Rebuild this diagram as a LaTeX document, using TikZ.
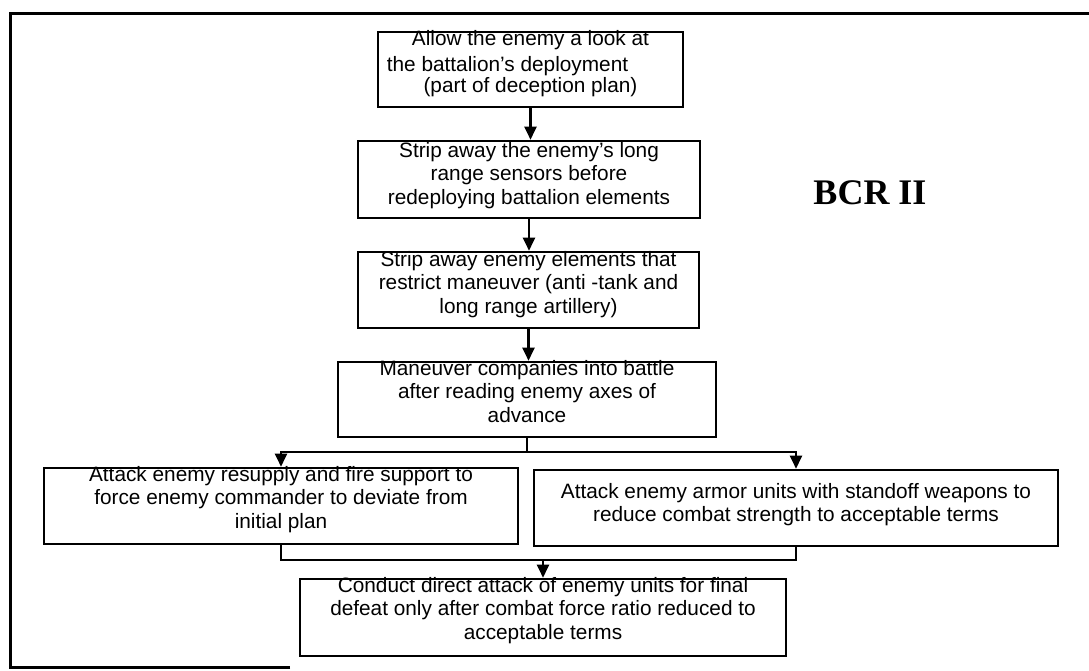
\documentclass[tikz,border=0pt]{standalone}
\usepackage{fontspec}
\setmainfont{Liberation Sans}
\newfontfamily\titlefont{Liberation Serif}
\usetikzlibrary{arrows.meta}
\begin{document}
\begin{tikzpicture}[x=1pt,y=-1pt,
  box/.style={draw, line width=2.6pt, rectangle, inner sep=0pt},
  txt/.style={align=center, inner sep=0pt, font=\fontsize{20.8}{23.5}\selectfont},
  conn/.style={line width=2.2pt},
  arr/.style={conn, -{Triangle[width=12pt,length=13pt]}},
  frameline/.style={line width=3pt}]
\useasboundingbox (0,0) rectangle (1089,670);
% frame
\draw[frameline] (290,667) -- (10,667) -- (10,13) -- (1095,13);
% boxes
\node[box, minimum width=305pt, minimum height=75pt] (b1) at (530.5,69.5) {};
\node[box, minimum width=342pt, minimum height=77pt] (b2) at (529,179.5) {};
\node[box, minimum width=341pt, minimum height=76pt] (b3) at (528.5,290) {};
\node[box, minimum width=378pt, minimum height=75pt] (b4) at (527,399.5) {};
\node[box, minimum width=474pt, minimum height=76pt] (b5) at (281,506) {};
\node[box, minimum width=524pt, minimum height=76pt] (b6) at (796,508) {};
\node[box, minimum width=486pt, minimum height=77pt] (b7) at (543,617.5) {};
% texts
\node[txt, anchor=north] (t1) at (530.5,30) {Allow the enemy a look at\\[3pt]the battalion’s deployment\rule{46pt}{0pt}\\[-3pt](part of deception plan)};
\node[txt, anchor=north] (t2) at (529,142) {Strip away the enemy’s long\\range sensors before\\redeploying battalion elements};
\node[txt, anchor=north] (t3) at (528.5,251) {Strip away enemy elements that\\restrict maneuver (anti -tank and\\long range artillery)};
\node[txt, anchor=north] (t4) at (527,360) {Maneuver companies into battle\\after reading enemy axes of\\advance};
\node[txt, anchor=north] (t5) at (281,466) {Attack enemy resupply and fire support to\\force enemy commander to deviate from\\initial plan};
\node[txt] (t6) at (796,504.5) {Attack enemy armor units with standoff weapons to\\reduce combat strength to acceptable terms};
\node[txt, anchor=north] (t7) at (543,577) {Conduct direct attack of enemy units for final\\defeat only after combat force ratio reduced to\\acceptable terms};
% title
\node[font=\titlefont\bfseries\fontsize{36}{40}\selectfont, anchor=base, inner sep=0pt] (title) at (870,204) {BCR II};
% connectors
\draw[arr] (b1.south) -- (b1.south |- b2.north);
\draw[arr] (b2.south) -- (b2.south |- b3.north);
\draw[arr] (b3.south) -- (b3.south |- b4.north);
\coordinate (ybr) at (0,452);
\coordinate (sp) at (b4.south |- ybr);
\draw[conn] (b4.south) -- (sp);
\draw[arr] (sp) -| (b5.north);
\draw[arr] (sp) -| (b6.north);
\coordinate (ymg) at (0,560);
\draw[conn] (b5.south) |- (b6.south |- ymg) -- (b6.south);
\draw[arr] (b7.north |- ymg) -- (b7.north);
\end{tikzpicture}
\end{document}
